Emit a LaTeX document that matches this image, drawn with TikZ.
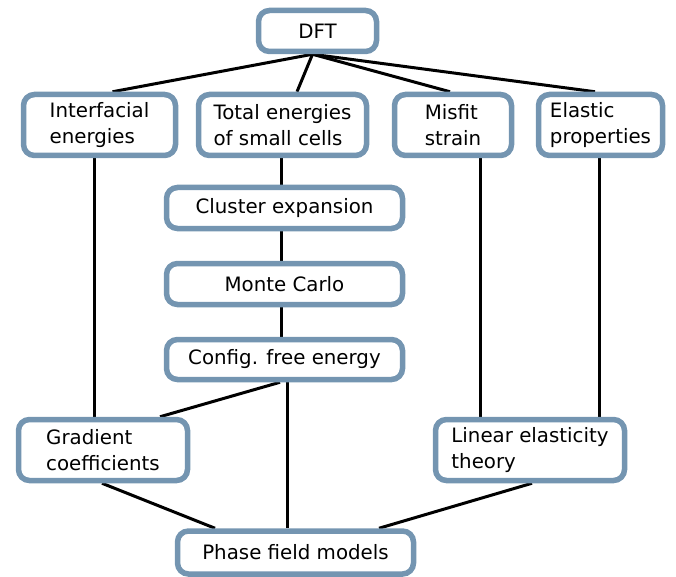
\documentclass[tikz,border=0pt]{standalone}
\usepackage{fontspec}
\setmainfont{DejaVu Sans}
\usepackage{tikz}
\pgfdeclarelayer{background}
\pgfsetlayers{background,main}
\definecolor{boxblue}{RGB}{116,149,177}
\tikzset{
box/.style={draw=boxblue,line width=5.5pt,rounded corners=11pt,fill=white,align=left,inner sep=0pt,font=\fontsize{19.8}{25.5}\selectfont},
line/.style={black,line width=3pt}
}

\begin{document}
\begin{tikzpicture}[x=1pt,y=-1pt]
    \useasboundingbox (0,0) rectangle (676,577);
    %
    \node[box, minimum width=118, minimum height=41](dft) at (317.5, 31) {DFT};
    \node[box, minimum width=152, minimum height=61](inter) at (99.5, 125) {Interfacial\\energies};
    \node[box, minimum width=168, minimum height=61](total) at (282.5, 125) {Total energies\\of small cells};
    \node[box, minimum width=117, minimum height=61](misfit) at (453, 125) {Misfit\\strain};
    \node[box, minimum width=124, minimum height=61](elastic) at (600.5, 125) {Elastic\\properties};
    \node[box, minimum width=236, minimum height=41](cluster) at (284.5, 208) {Cluster expansion};
    \node[box, minimum width=236, minimum height=41](mc) at (284.5, 284) {Monte Carlo};
    \node[box, minimum width=236, minimum height=40](config) at (284.5, 359.5) {Config. free energy};
    \node[box, minimum width=169, minimum height=61](grad) at (103, 450) {Gradient\\coefficients};
    \node[box, minimum width=189, minimum height=61](linel) at (530, 450) {Linear elasticity\\theory};
    \node[box, minimum width=236, minimum height=43](phase) at (295.5, 552.5) {Phase field models};
    %
    \begin{pgfonlayer}{background}
    \draw[line] ([xshift=-5pt]dft.south) -- ([xshift=13pt]inter.north);
    \draw[line] ([xshift=-5pt]dft.south) -- ([xshift=14.5pt]total.north);
    \draw[line] ([xshift=-5pt]dft.south) -- ([xshift=-3pt]misfit.north);
    \draw[line] ([xshift=-5pt]dft.south) -- ([xshift=-5.5pt]elastic.north);
    %
    \draw[line] ([xshift=-1.5pt]total.south) -- ([xshift=-3.5pt]cluster.north);
    \draw[line] ([xshift=-3.5pt]cluster.south) -- ([xshift=-3.5pt]mc.north);
    \draw[line] ([xshift=-3.5pt]mc.south) -- ([xshift=-3.5pt]config.north);
    %
    \draw[line] ([xshift=-5.5pt]inter.south) -- ([xshift=-9pt]grad.north);
    \draw[line] ([xshift=27pt]misfit.south) -- ([xshift=-50pt]linel.north);
    \draw[line] ([xshift=-1.5pt]elastic.south) -- ([xshift=69pt]linel.north);
    \draw[line] ([xshift=-4.5pt]config.south) -- ([xshift=57pt]grad.north);
    \draw[line] ([xshift=2.5pt]config.south) -- ([xshift=-8.5pt]phase.north);
    \draw[line] ([xshift=-1pt]grad.south) -- ([xshift=-80.5pt]phase.north);
    \draw[line] ([xshift=2pt]linel.south) -- ([xshift=83.5pt]phase.north);
    \end{pgfonlayer}
\end{tikzpicture}
\end{document}
